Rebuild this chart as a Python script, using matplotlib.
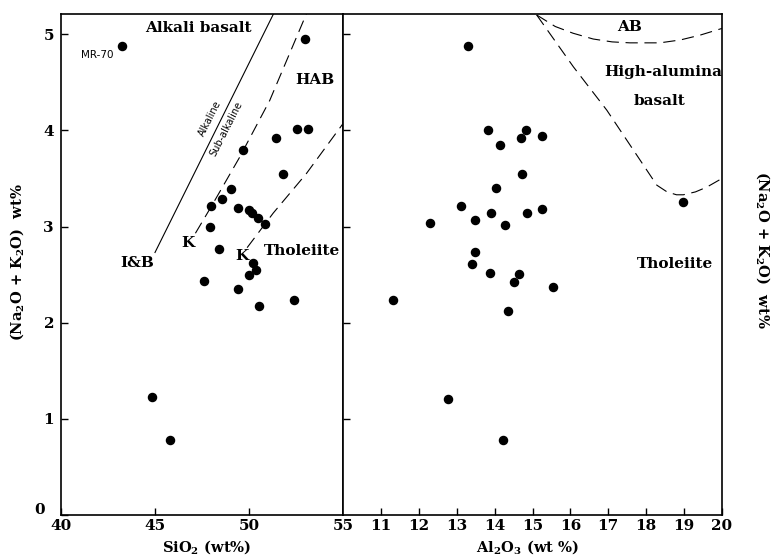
import numpy as np
import matplotlib
matplotlib.use("Agg")
import matplotlib.pyplot as plt

plt.rcParams['font.family'] = 'DejaVu Serif'
plt.rcParams['font.weight'] = 'bold'
plt.rcParams['mathtext.default'] = 'regular'

# SiO2 vs total alkali (left panel)
sio2 = [43.27, 52.98, 51.45, 52.54, 53.16, 49.66, 51.80, 49.04, 48.57, 48.00,
        49.41, 49.98, 50.16, 50.47, 50.83, 47.91, 48.43, 50.21, 50.39, 49.98,
        47.60, 49.40, 50.51, 52.37, 44.82, 45.78]
alk_left = [4.88, 4.95, 3.92, 4.01, 4.01, 3.80, 3.55, 3.39, 3.29, 3.21,
            3.19, 3.17, 3.14, 3.09, 3.03, 3.00, 2.77, 2.62, 2.55, 2.50,
            2.43, 2.35, 2.17, 2.24, 1.23, 0.78]

# Al2O3 vs total alkali (right panel)
al2o3 = [13.29, 13.82, 14.82, 14.70, 15.25, 14.14, 14.73, 14.03, 13.11, 15.26,
         14.86, 13.90, 13.49, 12.30, 14.28, 13.47, 13.41, 13.88, 14.64, 14.52,
         15.53, 11.33, 14.36, 12.76, 14.22, 18.98]
alk_right = [4.88, 4.00, 4.00, 3.92, 3.94, 3.85, 3.55, 3.40, 3.21, 3.18,
             3.14, 3.14, 3.07, 3.04, 3.02, 2.74, 2.61, 2.52, 2.51, 2.42,
             2.37, 2.24, 2.12, 1.21, 0.78, 3.26]

# boundary lines
ib_x = [45.0, 51.3]
ib_y = [2.73, 5.21]
kuno1_x = [47.15, 48.0, 49.5, 51.1, 53.05]
kuno1_y = [2.93, 3.21, 3.72, 4.31, 5.21]
kuno2_x = [49.9, 51.29, 53.05, 55.0]
kuno2_y = [2.78, 3.14, 3.55, 4.07]

ab_x = [15.11, 15.6, 16.07, 16.6, 17.1, 17.57, 18.36, 18.9, 19.42, 20.0]
ab_y = [5.20, 5.08, 5.01, 4.95, 4.92, 4.91, 4.91, 4.94, 4.99, 5.06]
ha_x = [15.11, 16.08, 16.96, 17.84, 18.28, 18.55, 18.8, 18.98, 19.3, 19.6, 20.0]
ha_y = [5.20, 4.66, 4.21, 3.69, 3.43, 3.36, 3.33, 3.33, 3.36, 3.41, 3.50]

fig = plt.figure(figsize=(7.71, 5.56), dpi=100)
ax1 = fig.add_axes([61/771, 41/556, 282/771, 501/556])
ax2 = fig.add_axes([343/771, 41/556, 379/771, 501/556])

dash = (0, (11, 6))
ax1.scatter(sio2, alk_left, s=34, color='black', zorder=3)
ax1.plot(ib_x, ib_y, color='black', lw=0.8)
ax1.plot(kuno1_x, kuno1_y, color='black', lw=0.8, linestyle=dash)
ax1.plot(kuno2_x, kuno2_y, color='black', lw=0.8, linestyle=dash)

ax2.scatter(al2o3, alk_right, s=34, color='black', zorder=3)
ax2.plot(ab_x, ab_y, color='black', lw=0.8, linestyle=dash)
ax2.plot(ha_x, ha_y, color='black', lw=0.8, linestyle=dash)

ax1.set_xlim(40, 55)
ax1.set_ylim(0, 5.21)
ax1.set_xticks([40, 45, 50, 55])
ax1.set_yticks([0, 1, 2, 3, 4, 5])
ax1.set_yticklabels(['', '1', '2', '3', '4', '5'])
ax1.tick_params(direction='in', length=5, width=1, labelsize=11, pad=3)
ax1.tick_params(axis='y', pad=5)
# "0" sits a little further left than the other labels
ax1.text(-0.075, 0.01, '0', transform=ax1.transAxes, fontsize=11,
         ha='center', va='center')

ax2.set_xlim(10, 20)
ax2.set_ylim(0, 5.21)
ax2.set_xticks(range(11, 21))
ax2.set_yticks([1, 2, 3, 4, 5])
ax2.tick_params(direction='in', length=5, width=1, labelsize=11, pad=3)
ax2.tick_params(axis='y', labelleft=False)

for ax in (ax1, ax2):
    for sp in ax.spines.values():
        sp.set_linewidth(1.2)

# region labels
tk = dict(fontsize=11, fontweight='bold', ha='center', va='center')
ax1.text(47.3, 5.06, 'Alkali basalt', **tk)
ax1.text(53.5, 4.52, 'HAB', **tk)
ax1.text(52.83, 2.75, 'Tholeiite', **tk)
ax1.text(44.06, 2.62, 'I&B', **tk)
ax1.text(46.77, 2.83, 'K', **tk)
ax1.text(49.61, 2.69, 'K', **tk)
ax1.text(41.94, 4.78, 'MR-70', fontsize=7.5, family='DejaVu Sans',
         fontweight='normal', ha='center', va='center')
ax1.text(47.94, 4.12, 'Alkaline', fontsize=7, family='DejaVu Sans',
         fontweight='normal', rotation=63, ha='center', va='center')
ax1.text(48.82, 4.02, 'Sub-alkaline', fontsize=7, family='DejaVu Sans',
         fontweight='normal', rotation=63, ha='center', va='center')

ax2.text(17.57, 5.08, 'AB', **tk)
ax2.text(18.46, 4.61, 'High-alumina', **tk)
ax2.text(18.36, 4.31, 'basalt', **tk)
ax2.text(18.76, 2.61, 'Tholeiite', **tk)

# axis titles
fig.text(207/771, 1 - 547/556, 'SiO$_2$ (wt%)', fontsize=10.5,
         fontweight='bold', ha='center', va='center')
fig.text(527/771, 1 - 547/556, 'Al$_2$O$_3$ (wt %)', fontsize=10.5,
         fontweight='bold', ha='center', va='center')
ylab = '(Na$_2$O + K$_2$O)  wt%'
fig.text(17/771, 1 - 262/556, ylab, fontsize=10.5, fontweight='bold',
         rotation=90, ha='center', va='center')
fig.text(763/771, 1 - 250/556, ylab, fontsize=10.5, fontweight='bold',
         rotation=270, ha='center', va='center')

plt.savefig('out.png', dpi=100)
